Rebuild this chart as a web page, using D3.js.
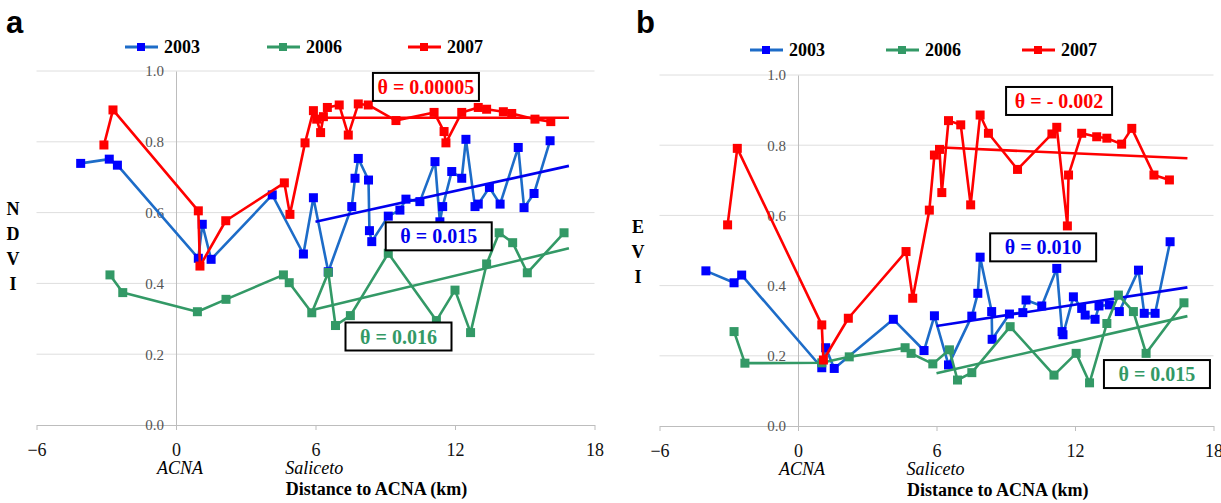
<!DOCTYPE html>
<html>
<head>
<meta charset="utf-8">
<script src="https://cdn.jsdelivr.net/npm/d3@7"></script>
<style>
  body { margin: 0; background: #fff; }
  svg { display: block; }
  text { font-family: "Liberation Serif", "DejaVu Serif", serif; }
  text.letter { font-family: "Liberation Sans", Arial, sans-serif; }
</style>
</head>
<body>
<svg id="chart"></svg>
<script>
// Data =======================================================================

const xTicks = [-6, 0, 6, 12, 18];
const yTicks = [0, 0.2, 0.4, 0.6, 0.8, 1.0];
const years = ["2003", "2006", "2007"];

// (a) NDVI
const ndvi2003X = [-4.10, -2.87, -2.52, 0.96, 1.13, 1.51, 4.14, 5.48, 5.91, 6.55, 7.56, 7.70, 7.84, 8.28, 8.32, 8.42, 9.13, 9.63, 9.89, 10.49, 11.14, 11.35, 11.47, 11.86, 12.29, 12.47, 12.86, 13.0, 13.48, 13.94, 14.72, 14.97, 15.4, 16.09];
const ndvi2003Y = [0.739, 0.751, 0.734, 0.471, 0.567, 0.468, 0.650, 0.483, 0.642, 0.433, 0.617, 0.697, 0.753, 0.692, 0.549, 0.518, 0.590, 0.607, 0.638, 0.631, 0.744, 0.574, 0.617, 0.716, 0.697, 0.807, 0.617, 0.624, 0.671, 0.624, 0.784, 0.614, 0.654, 0.803];
const ndvi2006X = [-2.84, -2.29, 0.92, 2.15, 4.62, 4.87, 5.84, 6.55, 6.86, 7.5, 9.13, 11.2, 12.0, 12.67, 13.36, 13.9, 14.48, 15.11, 16.69];
const ndvi2006Y = [0.424, 0.374, 0.320, 0.355, 0.424, 0.402, 0.317, 0.431, 0.281, 0.309, 0.485, 0.295, 0.381, 0.261, 0.455, 0.543, 0.515, 0.430, 0.543];
const ndvi2007X = [-3.10, -2.71, 0.96, 1.03, 2.14, 4.66, 4.90, 5.55, 5.91, 6.05, 6.22, 6.34, 6.51, 7.02, 7.41, 7.84, 8.27, 9.46, 11.1, 11.53, 11.61, 12.29, 13.0, 13.36, 14.08, 14.44, 15.44, 16.12];
const ndvi2007Y = [0.791, 0.890, 0.605, 0.449, 0.577, 0.684, 0.595, 0.797, 0.888, 0.864, 0.826, 0.871, 0.897, 0.904, 0.819, 0.907, 0.904, 0.860, 0.883, 0.829, 0.797, 0.883, 0.897, 0.892, 0.885, 0.880, 0.864, 0.857];
const ndviTrendX = [6, 16.9];
const ndviTrend2003 = [0.574, 0.732];
const ndviTrend2006 = [0.327, 0.499];
const ndviTrend2007 = [0.868, 0.868];
const ndviSlopes = ["θ = 0.015", "θ = 0.016", "θ = 0.00005"];

// (b) EVI
const evi2003X = [-3.99, -2.77, -2.44, 1.03, 1.20, 1.57, 4.13, 5.46, 5.91, 6.52, 7.53, 7.79, 7.89, 8.39, 8.41, 9.16, 9.74, 9.88, 10.56, 11.21, 11.44, 11.48, 11.93, 12.29, 12.44, 12.87, 13.04, 13.49, 13.92, 14.75, 15.0, 15.47, 16.12];
const evi2003Y = [0.442, 0.408, 0.430, 0.166, 0.223, 0.164, 0.304, 0.215, 0.314, 0.174, 0.313, 0.378, 0.481, 0.326, 0.247, 0.319, 0.323, 0.359, 0.342, 0.449, 0.269, 0.260, 0.368, 0.335, 0.316, 0.304, 0.342, 0.345, 0.326, 0.444, 0.321, 0.321, 0.525];
const evi2006X = [-2.77, -2.30, 1.03, 2.22, 4.64, 4.90, 5.84, 6.56, 6.91, 7.53, 9.19, 11.09, 12.05, 12.63, 13.38, 13.88, 14.53, 15.08, 16.72];
const evi2006Y = [0.269, 0.179, 0.180, 0.197, 0.223, 0.207, 0.177, 0.217, 0.131, 0.152, 0.283, 0.145, 0.207, 0.123, 0.292, 0.373, 0.326, 0.207, 0.351];
const evi2007X = [-3.05, -2.63, 1.03, 1.10, 2.18, 4.68, 4.97, 5.69, 5.91, 6.13, 6.23, 6.52, 7.05, 7.48, 7.89, 8.25, 9.51, 11.0, 11.21, 11.67, 11.72, 12.29, 12.94, 13.38, 14.02, 14.46, 15.42, 16.09];
const evi2007Y = [0.573, 0.791, 0.288, 0.188, 0.307, 0.497, 0.364, 0.615, 0.772, 0.788, 0.665, 0.870, 0.858, 0.630, 0.886, 0.834, 0.731, 0.832, 0.851, 0.570, 0.715, 0.834, 0.824, 0.820, 0.803, 0.848, 0.715, 0.701];
const eviTrendX = [6, 16.87];
const eviTrend2003 = [0.285, 0.395];
const eviTrend2006 = [0.150, 0.313];
const eviTrend2007 = [0.794, 0.763];
const eviSlopes = ["θ = 0.010", "θ = 0.015", "θ = - 0.002"];

// Styles =====================================================================

const lineColors = ["#1d6cc8", "#339966", "#ff0000"];
const markColors = ["#0000ff", "#339966", "#ff0000"];
const trendColors = ["#0000ee", "#339966", "#ff0000"];

const svg = d3.select("#chart")
  .attr("width", 1221)
  .attr("height", 503);

// Panel ======================================================================

function drawPanel(p) {
  const x = d3.scaleLinear().domain([-6, 18]).range([p.left, p.right]);
  const y = d3.scaleLinear().domain([0, 1]).range([p.bottom, p.top]);
  const g = svg.append("g");

  // gridlines
  g.append("g")
    .selectAll("line")
    .data(yTicks.slice(1))
    .join("line")
    .attr("x1", x(-6))
    .attr("x2", x(18))
    .attr("y1", d => y(d))
    .attr("y2", d => y(d))
    .attr("stroke", "#dedede");

  // x axis
  const xAxis = g.append("g")
    .attr("transform", `translate(0,${y(0)})`)
    .call(d3.axisBottom(x).tickValues(xTicks).tickSize(5).tickSizeOuter(0).tickPadding(13));
  xAxis.attr("font-size", 18);
  xAxis.select(".domain").attr("stroke", "#bdbdbd");
  xAxis.selectAll(".tick line").attr("stroke", "#bdbdbd");
  xAxis.selectAll(".tick text").attr("fill", "#111");

  // y axis sits at x = 0
  const yAxis = g.append("g")
    .attr("transform", `translate(${x(0)},0)`)
    .call(d3.axisLeft(y).tickValues(yTicks).tickSize(0).tickSizeOuter(0).tickPadding(12).tickFormat(d3.format(".1f")));
  yAxis.attr("font-size", 15);
  yAxis.select(".domain").attr("stroke", "#bdbdbd");
  yAxis.selectAll(".tick text").attr("fill", "#555");

  // stacked y label
  g.append("g")
    .selectAll("text")
    .data(p.yLabel.split(""))
    .join("text")
    .attr("x", p.yLabelX)
    .attr("y", (d, i) => p.yLabelY + i * 25)
    .attr("dy", "0.35em")
    .attr("text-anchor", "middle")
    .attr("font-weight", "bold")
    .attr("font-size", 18)
    .text(d => d);

  // place names & axis title
  g.append("text")
    .attr("x", x(0) + 4)
    .attr("y", p.bottom + 49)
    .attr("text-anchor", "middle")
    .attr("font-style", "italic")
    .attr("font-size", 18)
    .text("ACNA");
  g.append("text")
    .attr("x", x(4.7))
    .attr("y", p.bottom + 49)
    .attr("font-style", "italic")
    .attr("font-size", 18)
    .text("Saliceto");
  g.append("text")
    .attr("x", x(4.72))
    .attr("y", p.bottom + 70)
    .attr("font-weight", "bold")
    .attr("font-size", 18)
    .text("Distance to ACNA (km)");

  // panel letter
  g.append("text")
    .attr("class", "letter")
    .attr("x", p.letterX)
    .attr("y", 33)
    .attr("font-weight", "bold")
    .attr("font-size", 31)
    .text(p.letter);

  const line = d3.line().x(d => x(d[0])).y(d => y(d[1]));

  // series
  p.series.forEach((s, i) => {
    const pts = s.x.map((v, j) => [v, s.y[j]]);
    g.append("path")
      .datum(pts)
      .attr("d", line)
      .attr("fill", "none")
      .attr("stroke", lineColors[i])
      .attr("stroke-width", 2.6)
      .attr("stroke-linejoin", "round");
    g.append("path")
      .datum(p.trendX.map((v, j) => [v, s.trend[j]]))
      .attr("d", line)
      .attr("fill", "none")
      .attr("stroke", trendColors[i])
      .attr("stroke-width", 2.6);
    g.append("g")
      .selectAll("rect")
      .data(pts)
      .join("rect")
      .attr("x", d => x(d[0]) - 4.5)
      .attr("y", d => y(d[1]) - 4.5)
      .attr("width", 9)
      .attr("height", 9)
      .attr("fill", markColors[i]);
  });

  // legend
  const leg = g.append("g")
    .selectAll("g")
    .data(years)
    .join("g")
    .attr("transform", (d, i) => `translate(${p.legendX[i]},${p.legendY})`);
  leg.append("line")
    .attr("x1", 0).attr("x2", 33)
    .attr("stroke", (d, i) => lineColors[i])
    .attr("stroke-width", 3);
  leg.append("rect")
    .attr("x", 12).attr("y", -4).attr("width", 8).attr("height", 8)
    .attr("fill", (d, i) => markColors[i]);
  leg.append("text")
    .attr("x", 39)
    .attr("dy", "0.35em")
    .attr("font-weight", "bold")
    .attr("font-size", 18)
    .text(d => d);

  // slope boxes
  const box = g.append("g")
    .selectAll("g")
    .data(p.slopes)
    .join("g")
    .attr("transform", (d, i) => `translate(${x(p.boxes[i][0])},${y(p.boxes[i][1])})`);
  box.append("rect")
    .attr("x", -53).attr("y", -14).attr("width", 106).attr("height", 28)
    .attr("fill", "#fff")
    .attr("stroke", "#000")
    .attr("stroke-width", 2);
  box.append("text")
    .attr("text-anchor", "middle")
    .attr("dy", "0.35em")
    .attr("font-weight", "bold")
    .attr("font-size", 20)
    .attr("fill", (d, i) => trendColors[i])
    .text(d => d);
}

drawPanel({
  letter: "a", letterX: 6,
  left: 36.5, right: 594.5, top: 71, bottom: 425,
  yLabel: "NDVI", yLabelX: 13, yLabelY: 209,
  legendX: [125, 267, 408], legendY: 47,
  trendX: ndviTrendX,
  series: [
    { x: ndvi2003X, y: ndvi2003Y, trend: ndviTrend2003 },
    { x: ndvi2006X, y: ndvi2006Y, trend: ndviTrend2006 },
    { x: ndvi2007X, y: ndvi2007Y, trend: ndviTrend2007 }
  ],
  slopes: ndviSlopes,
  boxes: [[11.3, 0.533], [9.57, 0.25], [10.75, 0.955]]
});

drawPanel({
  letter: "b", letterX: 636,
  left: 659.5, right: 1213.5, top: 75, bottom: 426,
  yLabel: "EVI", yLabelX: 638, yLabelY: 227,
  legendX: [750, 886, 1022], legendY: 50,
  trendX: eviTrendX,
  series: [
    { x: evi2003X, y: evi2003Y, trend: eviTrend2003 },
    { x: evi2006X, y: evi2006Y, trend: eviTrend2006 },
    { x: evi2007X, y: evi2007Y, trend: eviTrend2007 }
  ],
  slopes: eviSlopes,
  boxes: [[10.62, 0.509], [15.55, 0.148], [11.31, 0.926]]
});
</script>
</body>
</html>
